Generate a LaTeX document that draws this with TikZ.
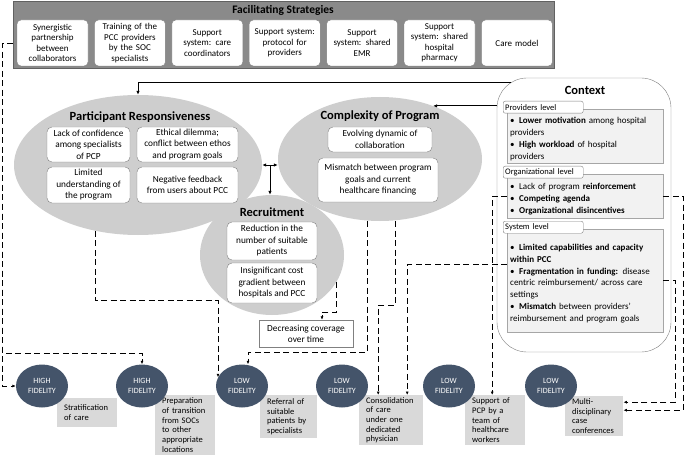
\documentclass[tikz,border=0pt]{standalone}
\usepackage{fontspec}
\setmainfont{Carlito}
\usepackage{tikz}
\usetikzlibrary{shapes.geometric, arrows.meta, positioning}

\definecolor{stratgray}{RGB}{138,138,138}
\definecolor{ovalgray}{RGB}{206,206,206}
\definecolor{levelgray}{RGB}{242,242,242}
\definecolor{actgray}{RGB}{217,217,217}
\definecolor{fidblue}{RGB}{68,84,106}
\definecolor{linegray}{RGB}{128,128,128}

\newcommand{\bul}[1]{\par\hangindent=9pt\hangafter=1\noindent\makebox[9pt][l]{\textbullet}#1}

\tikzset{
  strat/.style={draw=linegray, fill=white, rounded corners=4pt, minimum width=71pt, minimum height=46pt,
    text width=69pt, align=center, inner sep=1pt, font=\fontsize{9}{10.5}\selectfont},
  oval/.style={ellipse, fill=ovalgray, inner sep=0pt},
  head/.style={font=\fontsize{12.5}{15}\selectfont\bfseries},
  item/.style={draw=linegray, fill=white, rounded corners=5pt, align=center, inner sep=1pt,
    font=\fontsize{9.3}{11.5}\selectfont},
  level/.style={draw=linegray!70, fill=levelgray, anchor=north west, minimum width=156pt,
    text width=150pt, inner xsep=3pt, inner ysep=2pt, align=left, font=\fontsize{9}{11.8}\selectfont},
  tab/.style={draw=linegray, fill=white, rounded corners=2pt, anchor=north west, minimum height=12pt,
    text width=76pt, inner xsep=2pt, inner ysep=0pt, align=left, font=\fontsize{8.5}{10}\selectfont},
  fid/.style={ellipse, fill=fidblue, text=white, minimum width=52pt, minimum height=43pt,
    inner sep=0pt, align=center, font=\fontsize{8}{10}\selectfont},
  act/.style={fill=actgray, anchor=north west, inner xsep=7pt, inner ysep=0pt, align=left,
    font=\fontsize{8.5}{9.7}\selectfont},
  link/.style={line width=0.9pt, dash pattern=on 6pt off 3.5pt, -{Latex[length=3.5pt,width=3pt]}},
  flow/.style={line width=0.8pt, -{Latex[length=4pt,width=3.5pt]}},
  flowboth/.style={line width=0.8pt, {Latex[length=4pt,width=3.5pt]}-{Latex[length=4pt,width=3.5pt]}}
}

\begin{document}
\begin{tikzpicture}[x=1pt, y=-1pt]
\useasboundingbox (0,0) rectangle (685,457);

\node[fill=stratgray, draw=stratgray!70!black, minimum width=541pt, minimum height=67pt, inner sep=0pt] (fs) at (283.5,34.5) {};
\node[font=\fontsize{11.5}{13}\selectfont\bfseries] (fst) at (283,10) {Facilitating Strategies};
\node[strat] (fs1) at (52.5,43) {Synergistic\\partnership\\between\\collaborators};
\node[strat, right=6pt of fs1] (fs2) {Training of the\\PCC providers\\by the SOC\\specialists};
\node[strat, right=6pt of fs2] (fs3) {Support\\system: care\\coordinators};
\node[strat, right=6pt of fs3] (fs4) {Support system:\\protocol for\\providers};
\node[strat, right=6pt of fs4] (fs5) {Support\\system: shared\\EMR};
\node[strat, right=6pt of fs5] (fs6) {Support\\system: shared\\hospital\\pharmacy};
\node[strat, right=6pt of fs6] (fs7) {Care model};

\node[oval, minimum width=248pt, minimum height=140pt] (pr) at (138,165) {};
\node[head] (prt) at (140,117) {Participant Responsiveness};
\node[item, minimum width=83pt, minimum height=35pt] (pr1) at (88.5,144.5) {Lack of confidence\\among specialists\\of PCP};
\node[item, minimum width=101pt, minimum height=35pt] (pr2) at (187.5,144.5) {Ethical dilemma;\\conflict between ethos\\and program goals};
\node[item, minimum width=83pt, minimum height=36pt] (pr3) at (88.5,185) {Limited\\understanding of\\the program};
\node[item, minimum width=101pt, minimum height=36pt] (pr4) at (187.5,185) {Negative feedback\\from users about PCC};

\node[oval, minimum width=204pt, minimum height=124pt] (cp) at (380,159) {};
\node[head] (cpt) at (380,116) {Complexity of Program};
\node[item, minimum width=104pt, minimum height=25pt] (cp1) at (380,139.5) {Evolving dynamic of\\collaboration};
\node[item, minimum width=120pt, minimum height=44pt] (cp2) at (378,180) {Mismatch between program\\goals and current\\healthcare financing};

\node[oval, minimum width=144pt, minimum height=120pt] (rc) at (272,255) {};
\node[head] (rct) at (272,212) {Recruitment};
\node[item, minimum width=90pt, minimum height=38pt] (rc1) at (272,241) {Reduction in the\\number of suitable\\patients};
\node[item, minimum width=90pt, minimum height=40pt] (rc2) at (272,283) {Insignificant cost\\gradient between\\hospitals and PCC};
\node[draw=linegray, fill=white, minimum width=94pt, minimum height=27pt, align=center, inner sep=1pt,
  font=\fontsize{9.3}{11}\selectfont] (dc) at (306,333.5) {Decreasing coverage\\over time};

\node[draw=linegray, fill=white, rounded corners=30pt, minimum width=174pt, minimum height=274pt] (ctx) at (584,215) {};
\node[head] (ctxt) at (585,90) {Context};
\node[level, minimum height=54pt] (lvp) at (507,109) {\bul{\textbf{Lower motivation} among hospital\\providers}\bul{\textbf{High workload} of hospital\\providers}};
\node[tab] (tabp) at (503,101) {Providers level};
\node[level, minimum height=44pt] (lvo) at (507,174) {\bul{Lack of program \textbf{reinforcement}}\bul{\textbf{Competing agenda}}\bul{\textbf{Organizational disincentives}}};
\node[tab] (tabo) at (503,166) {Organizational level};
\node[level, minimum height=103pt] (lvs) at (507,229) {\bul{\textbf{Limited capabilities and capacity}\\\textbf{within PCC}}\bul{\textbf{Fragmentation in funding:} disease\\centric reimbursement/ across care\\settings}\bul{\textbf{Mismatch} between providers'\\reimbursement and program goals}};
\node[tab] (tabs) at (503,221) {System level};

\node[act, text width=46pt, minimum height=29pt] (a1) at (57,398) {Stratification\\of care};
\node[act, text width=46pt, minimum height=60pt] (a2) at (155,395) {Preparation\\of transition\\from SOCs\\to other\\appropriate\\locations};
\node[act, text width=43pt, minimum height=43pt] (a3) at (260,395) {Referral of\\suitable\\patients by\\specialists};
\node[act, text width=50pt, minimum height=50pt] (a4) at (359,395) {Consolidation\\of care\\under one\\dedicated\\physician};
\node[act, text width=46pt, minimum height=50pt] (a5) at (465,395) {Support of\\PCP by a\\team of\\healthcare\\workers};
\node[act, text width=44pt, minimum height=40pt] (a6) at (565,396) {Multi-\\disciplinary\\case\\conferences};

\node[fid] (hf1) at (42,386) {HIGH\\FIDELITY};
\node[fid] (hf2) at (142,386) {HIGH\\FIDELITY};
\node[fid] (lf1) at (242,386) {LOW\\FIDELITY};
\node[fid] (lf2) at (342,386) {LOW\\FIDELITY};
\node[fid] (lf3) at (449,386) {LOW\\FIDELITY};
\node[fid] (lf4) at (551,386) {LOW\\FIDELITY};

\draw[flow] ([shift={(14pt,-5pt)}]ctx.north west) -| (pr.north);
\draw[flow] (ctx.west |- cp.45) -- (cp.45);
\draw[flowboth] (pr.east) -- node[coordinate, pos=0.5] (mid) {} (pr.east -| cp.west);
\draw[flow] (mid) -- (mid |- rc.north);

\draw[link] (fs.west |- fs1.west) -- ++(-10,0) |- (hf1.west);
\draw[link] (fs.west |- fs1.west) -- ++(-10,0) -- ++(0,310) -| (hf2.north);
\draw[link] (pr.237) -- ++(0,70) -| (lf1.160);
\draw[link] (rc.-23) -- ++(0,30) -| ([xshift=16pt]dc.north);
\draw[link] ([xshift=-13pt]cp.south) -- ++(0,131) -| ([xshift=6pt]lf1.north);
\draw[link] ([xshift=15pt]cp.south) -- ++(0,84) -| ([xshift=-13pt]a4.north);
\draw[link] ([yshift=16pt]lvs.west) -| ([xshift=16pt]a4.north);
\draw[link] (lvo.west) -| ([xshift=-3pt]a5.north);
\draw[link] (lvo.east) -- ++(20,0) |- ([yshift=6pt]a6.east);
\draw[link] (lvs.east) -- ++(12,0) |- ([yshift=14pt]a6.east);
\end{tikzpicture}
\end{document}
